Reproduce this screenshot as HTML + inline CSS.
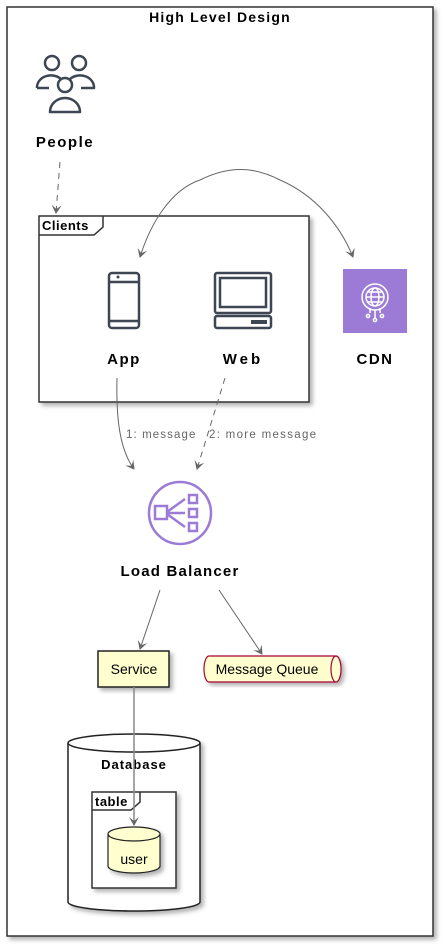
<!DOCTYPE html>
<html><head><meta charset="utf-8"><style>body{margin:0;background:#fff}svg{display:block}text{font-family:"Liberation Sans",sans-serif}</style></head><body>
<svg width="445" height="948" viewBox="0 0 445 948" xmlns="http://www.w3.org/2000/svg">
<defs>
<filter id="sh" x="-10%" y="-10%" width="130%" height="130%"><feDropShadow dx="3" dy="3" stdDeviation="2" flood-color="#000" flood-opacity="0.3"/></filter>
<marker id="ar" markerWidth="10" markerHeight="10" refX="8" refY="5" orient="auto" markerUnits="userSpaceOnUse"><path d="M0,0 L9,5 L0,10 L4,5 Z" fill="#666"/></marker>
</defs>
<rect x="7" y="7" width="426" height="929" fill="#fff" stroke="#333" stroke-width="1.5" filter="url(#sh)"/>
<text x="220" y="22" text-anchor="middle" font-size="14" font-weight="bold" letter-spacing="1.2">High Level Design</text>
<!-- People -->
<g fill="none" stroke="#3d4652" stroke-width="2.5" stroke-linejoin="round">
<circle cx="52" cy="63" r="7"/><path d="M37,88 a14,12 0 0 1 24,-9"/><path d="M37,88 h12"/>
<circle cx="79" cy="63" r="7"/><path d="M81,88 h13 a14,12 0 0 0 -24,-9"/>
<circle cx="65" cy="85" r="7"/><path d="M50,112 a15,14 0 0 1 30,0 Z"/>
</g>
<text x="65" y="147" text-anchor="middle" font-size="15" font-weight="bold" letter-spacing="1.5">People</text>
<path d="M60,162 L56,213" stroke="#666" stroke-dasharray="6,5" fill="none" marker-end="url(#ar)"/>
<!-- Clients -->
<rect x="39" y="216" width="270" height="186" fill="#fff" stroke="#333" stroke-width="1.5" filter="url(#sh)"/>
<path d="M39,235 H94 L103,227 V216" fill="none" stroke="#333" stroke-width="1.5"/>
<text x="42" y="230" font-size="13" font-weight="bold" letter-spacing="0.5">Clients</text>
<g fill="none" stroke="#3d4652" stroke-width="2.5">
<rect x="109" y="273" width="30" height="55" rx="3"/><path d="M109,282 h30 M109,321 h30"/>
<rect x="215" y="273" width="56" height="40" rx="2"/><rect x="220" y="278" width="46" height="29"/>
<rect x="215" y="316" width="56" height="12" rx="2"/>
</g>
<rect x="251" y="320" width="16" height="4" fill="#3d4652"/>
<circle cx="118" cy="277" r="1.5" fill="#3d4652"/>
<text x="124" y="364" text-anchor="middle" font-size="15" font-weight="bold" letter-spacing="1.5">App</text>
<text x="243" y="364" text-anchor="middle" font-size="15" font-weight="bold" letter-spacing="3">Web</text>
<!-- CDN -->
<rect x="343" y="269" width="64" height="64" fill="#9b7bd6"/>
<g fill="none" stroke="#fff" stroke-width="1.5">
<circle cx="375" cy="297" r="13"/><circle cx="375" cy="297" r="9"/><ellipse cx="375" cy="297" rx="4" ry="9"/>
<path d="M366,297 h18 M368,292 h14 M368,302 h14 M375,310 v8 M370,308 v5 M380,308 v5"/>
<circle cx="368" cy="316" r="1.6"/><circle cx="375" cy="320" r="1.6"/><circle cx="382" cy="316" r="1.6"/>
</g>
<text x="375" y="364" text-anchor="middle" font-size="15" font-weight="bold" letter-spacing="1.5">CDN</text>
<path d="M200,180 C170,190 150,225 140,257" stroke="#666" fill="none" marker-end="url(#ar)"/>
<path d="M200,180 C230,165 255,167 280,180 C315,195 340,225 353,257" stroke="#666" fill="none" marker-end="url(#ar)"/>
<!-- to LB -->
<path d="M117,378 C116,420 120,450 134,469" stroke="#666" fill="none" marker-end="url(#ar)"/>
<path d="M225,378 L197,469" stroke="#666" stroke-dasharray="6,5" fill="none" marker-end="url(#ar)"/>
<text x="126" y="438" font-size="11.5" fill="#666" letter-spacing="1.1">1: message</text>
<text x="209" y="438" font-size="11.5" fill="#666" letter-spacing="1.3">2: more message</text>
<!-- LB -->
<g fill="none" stroke="#9b7bd6" stroke-width="2.5">
<circle cx="180" cy="513" r="31"/>
<rect x="155" y="506" width="12" height="13"/>
<rect x="189" y="495" width="8" height="8"/><rect x="189" y="509" width="8" height="8"/><rect x="189" y="523" width="8" height="8"/>
<path d="M167,512 L185,499 M167,513 H185 M167,514 L185,527"/>
</g>
<text x="180" y="576" text-anchor="middle" font-size="15" font-weight="bold" letter-spacing="1.2">Load Balancer</text>
<path d="M160,590 L140,649" stroke="#666" fill="none" marker-end="url(#ar)"/>
<path d="M219,590 L262,654" stroke="#666" fill="none" marker-end="url(#ar)"/>
<!-- Service -->
<rect x="98" y="651" width="71" height="36" fill="#fefece" stroke="#222" stroke-width="1.5" filter="url(#sh)"/>
<text x="134" y="674" text-anchor="middle" font-size="14">Service</text>
<!-- Queue -->
<path d="M209,656 H336 A5,13 0 0 1 336,682 H209 A5,13 0 0 1 209,656 Z" fill="#fefece" stroke="#a80036" stroke-width="1.2" filter="url(#sh)"/>
<ellipse cx="336" cy="669" rx="5" ry="13" fill="#fefece" stroke="#a80036" stroke-width="1.2"/>
<text x="267" y="674" text-anchor="middle" font-size="14">Message Queue</text>
<!-- Database -->
<path d="M68,743 A66,9 0 0 1 200,743 V902 A66,9 0 0 1 68,902 Z" fill="#fff" stroke="#222" stroke-width="1.5" filter="url(#sh)"/>
<path d="M68,743 A66,9 0 0 0 200,743" fill="none" stroke="#222" stroke-width="1.5"/>
<text x="134" y="769" text-anchor="middle" font-size="13" font-weight="bold" letter-spacing="1">Database</text>
<rect x="92" y="792" width="84" height="96" fill="#fff" stroke="#333" stroke-width="1.5" filter="url(#sh)"/>
<path d="M92,810 H131 L140,802 V792" fill="none" stroke="#333" stroke-width="1.5"/>
<text x="95" y="806" font-size="13" font-weight="bold" letter-spacing="0.5">table</text>
<path d="M108,834 A26,7 0 0 1 160,834 V866 A26,7 0 0 1 108,866 Z" fill="#fefece" stroke="#222" stroke-width="1.2" filter="url(#sh)"/>
<path d="M108,834 A26,7 0 0 0 160,834" fill="none" stroke="#222" stroke-width="1.2"/>
<text x="134" y="864" text-anchor="middle" font-size="14">user</text>
<path d="M134,687 L134,825" stroke="#888" stroke-width="1.5" fill="none" marker-end="url(#ar)"/>
</svg>
</body></html>
